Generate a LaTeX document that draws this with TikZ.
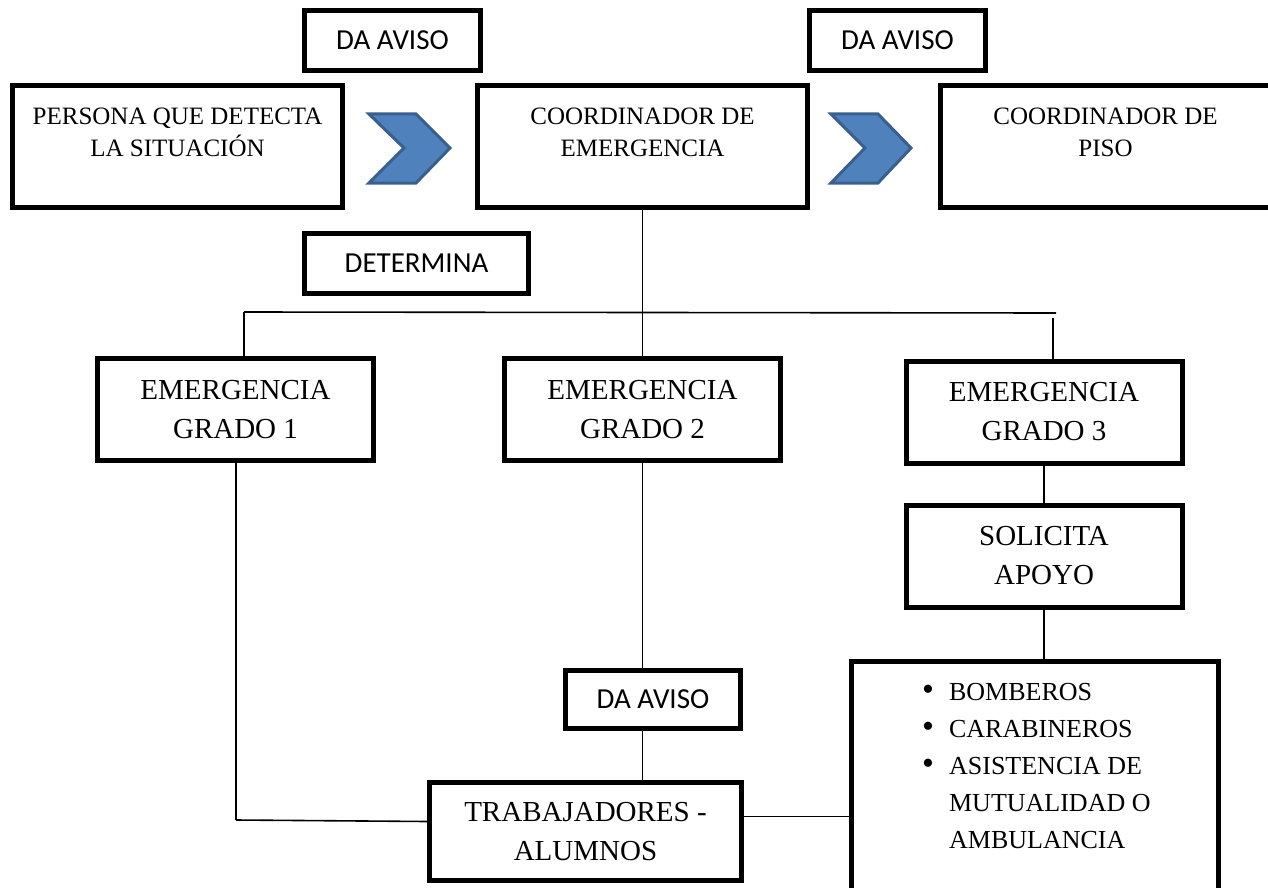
\documentclass[tikz,border=0pt]{standalone}
\usepackage{fontspec}
\setmainfont{Liberation Serif}
\newfontfamily\calibri{Carlito}
\usetikzlibrary{positioning}
\definecolor{chevfill}{HTML}{4F81BD}
\definecolor{chevdraw}{HTML}{3A5F8F}
\tikzset{line/.style={draw, line width=1.6pt}}
\newcommand{\toptext}[2]{\raisebox{6pt}[0pt][0pt]{\begin{tabular}{@{}c@{}}#1\\#2\end{tabular}}}
\newcommand{\punto}{{\fontsize{34}{37}\selectfont\textbullet}}

\begin{document}
\begin{tikzpicture}[x=1pt, y=-1pt]
\tikzstyle{topbox} = [rectangle, draw, line width=5pt, minimum width=330pt, minimum height=122pt, font=\fontsize{25}{32}\selectfont]
\tikzstyle{box} = [rectangle, draw, line width=5pt, align=center, minimum width=276pt, minimum height=102pt, font=\fontsize{29}{39}\selectfont]
\tikzstyle{aviso} = [rectangle, draw, line width=5pt, minimum width=176pt, minimum height=60pt, font=\calibri\fontsize{29}{35}\selectfont]
\tikzstyle{chev} = [fill=chevfill, draw=chevdraw, line width=3pt, line join=miter]

\useasboundingbox (0,0) rectangle (1268,888);

% fila superior
\node [topbox](persona) at (177.5,146.5){\toptext{PERSONA QUE DETECTA}{LA SITUACIÓN}};
\node [topbox, right=130pt of persona](coord){\toptext{COORDINADOR DE}{EMERGENCIA}};
\node [topbox, right=128pt of coord](piso){\toptext{COORDINADOR DE}{PISO}};
\node [aviso](aviso1) at (392.5,40.5){DA AVISO};
\node [aviso](aviso2) at (897.5,40.5){DA AVISO};
\node [aviso, minimum width=224pt](determina) at (416.5,263.5){DETERMINA};

% flechas
\draw [chev] (369,114) -- (416,114) -- (450,148) -- (416,183) -- (369,183) -- (404,148) -- cycle;
\draw [chev] (831,114) -- (878,114) -- (911,148) -- (878,183) -- (831,183) -- (865,148) -- cycle;

% grados
\node [box](g1) at (235.5,409.5){EMERGENCIA\\GRADO 1};
\node [box](g2) at (642.5,409.5){EMERGENCIA\\GRADO 2};
\node [box](g3) at (1044,412){EMERGENCIA\\GRADO 3};
\node [box, below=37pt of g3](solicita){SOLICITA\\APOYO};
\node [aviso, minimum width=175pt, minimum height=58pt](aviso3) at (653,699.5){DA AVISO};
\node [box, minimum width=312pt, minimum height=98pt](trab) at (585.5,831.5){TRABAJADORES -\\ALUMNOS};
\node [rectangle, draw, line width=5pt, minimum width=367pt, minimum height=256pt](lista) at (1035,789.5){};
\node [font=\fontsize{26}{37}\selectfont, inner sep=0pt, below right=15pt and 73pt of lista.north west](items){%
\begin{tabular}{@{}l@{\hspace{15pt}}l@{}}
\punto & BOMBEROS\\
\punto & CARABINEROS\\
\punto & ASISTENCIA DE\\
 & MUTUALIDAD O\\
 & AMBULANCIA
\end{tabular}};

% lineas
\coordinate (hl) at (244,312);
\coordinate (hr) at (1056,313);
\coordinate (hr3) at (1053,318);
\coordinate (g1b) at (236,820);
\draw [line] (coord.south) -- (g2.north);
\draw [line] (hl) -- (hr);
\draw [line] (hl) -- (hl |- g1.north);
\draw [line] (hr3) -- (hr3 |- g3.north);
\draw [line] (g1.south -| g1b) -- (g1b);
\draw [line] (g1b) -- ([yshift=10pt]trab.west);
\draw [line] ([yshift=15pt]trab.east) -- ([yshift=15pt]trab.east -| lista.west);
\draw [line] (g2.south) -- (g2.south |- aviso3.north);
\draw [line] (g2.south |- aviso3.south) -- (g2.south |- trab.north);
\draw [line] (g3) -- (solicita);
\draw [line] (solicita.south) -- (solicita.south |- lista.north);

\end{tikzpicture}
\end{document}
